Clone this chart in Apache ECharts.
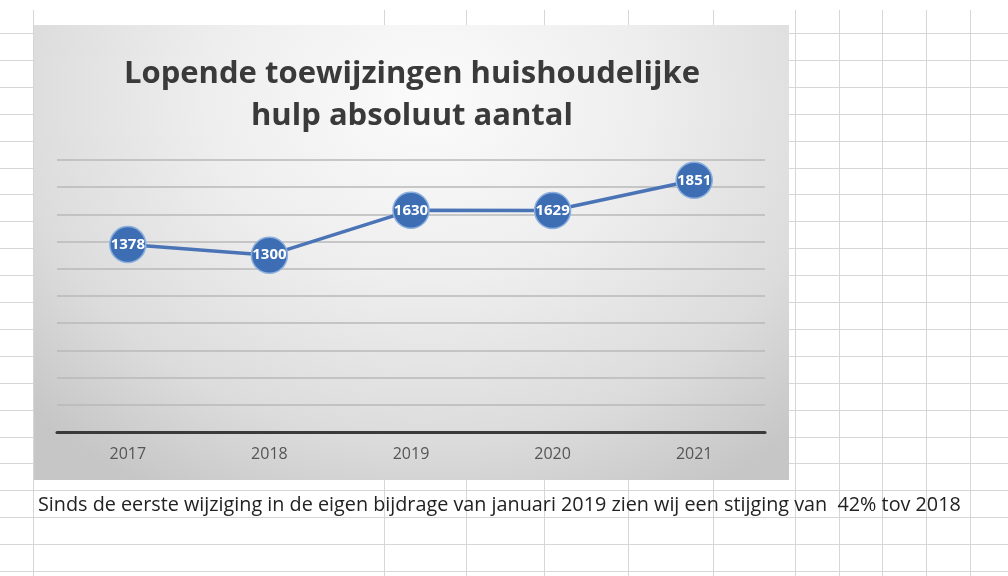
<!DOCTYPE html>
<html>
<head>
<meta charset="utf-8">
<script src="https://cdn.jsdelivr.net/npm/echarts@6/dist/echarts.min.js"></script>
<style>
  html, body { margin: 0; padding: 0; width: 1008px; height: 576px; overflow: hidden; background: #ffffff; }
  #sheet { position: absolute; left: 0; top: 0; width: 1008px; height: 576px; }
  .hl { position: absolute; left: 0; width: 1008px; height: 1px; background: #d6d6d6; }
  .vl { position: absolute; top: 10px; width: 1px; height: 566px; background: #d6d6d6; }
  #panel { position: absolute; left: 34px; top: 25px; width: 755px; height: 455px;
    background: radial-gradient(ellipse 72% 100% at 52% 16%, #fbfbfb 0%, #eeeeee 40%, #dcdcdc 75%, #c6c6c6 100%); }
  #chart { position: absolute; left: 0; top: 0; width: 1008px; height: 576px; }
</style>
</head>
<body>
<div id="sheet"></div>
<div id="panel"></div>
<div id="chart"></div>
<script>
// ---- data ----
const categories = ['2017', '2018', '2019', '2020', '2021'];
const values = [1378, 1300, 1630, 1629, 1851];
const yTicks = [0, 200, 400, 600, 800, 1000, 1200, 1400, 1600, 1800, 2000];
const titleLines = ['Lopende toewijzingen huishoudelijke', 'hulp absoluut aantal'];
const noteText = 'Sinds de eerste wijziging in de eigen bijdrage van januari 2019 zien wij een stijging van  42% tov 2018';

// ---- spreadsheet cell lines (decoration) ----
const sheet = document.getElementById('sheet');
for (let k = 0; k < 21; k++) {
  const d = document.createElement('div');
  d.className = 'hl';
  d.style.top = (33 + 26.9 * k).toFixed(1) + 'px';
  sheet.appendChild(d);
}
[33, 384, 466, 544, 628, 713, 795, 839, 882, 926, 970].forEach(function (x) {
  const d = document.createElement('div');
  d.className = 'vl';
  d.style.left = x + 'px';
  sheet.appendChild(d);
});

// ---- chart ----
const chart = echarts.init(document.getElementById('chart'));
chart.setOption({
  backgroundColor: 'transparent',
  animation: false,
  title: [
    {
      text: titleLines.join('\n'),
      left: 407, top: 48, textAlign: 'center',
      textStyle: { fontFamily: 'Open Sans', fontWeight: 'bold', fontSize: 31, color: '#3a3a3a', lineHeight: 42 }
    },
    {
      text: noteText,
      left: 33, top: 490,
      textStyle: { fontFamily: 'Open Sans', fontWeight: 'normal', fontSize: 19.8, color: '#222222' }
    }
  ],
  grid: { left: 57, right: 243, top: 160, bottom: 144 },
  xAxis: {
    type: 'category',
    data: categories,
    boundaryGap: true,
    axisLine: { show: true, lineStyle: { color: '#3a3a3a', width: 3 } },
    axisTick: { show: false },
    axisLabel: { color: '#555555', fontFamily: 'Open Sans', fontSize: 16, margin: 14 }
  },
  yAxis: {
    type: 'value',
    min: yTicks[0], max: yTicks[yTicks.length - 1], interval: yTicks[1] - yTicks[0],
    axisLine: { show: false },
    axisTick: { show: false },
    axisLabel: { show: false },
    splitLine: { lineStyle: { color: '#b9b9b9', width: 1.5 } }
  },
  series: [{
    type: 'line',
    data: values,
    symbol: 'circle',
    symbolSize: 36,
    lineStyle: { color: '#4a74b6', width: 3.5 },
    itemStyle: { color: '#3d6eb4', borderColor: '#8aaedd', borderWidth: 1.5 },
    label: {
      show: true, position: 'inside',
      color: '#ffffff', fontFamily: 'Open Sans', fontWeight: 'bold', fontSize: 15
    },
    z: 3
  }]
});
</script>
</body>
</html>
